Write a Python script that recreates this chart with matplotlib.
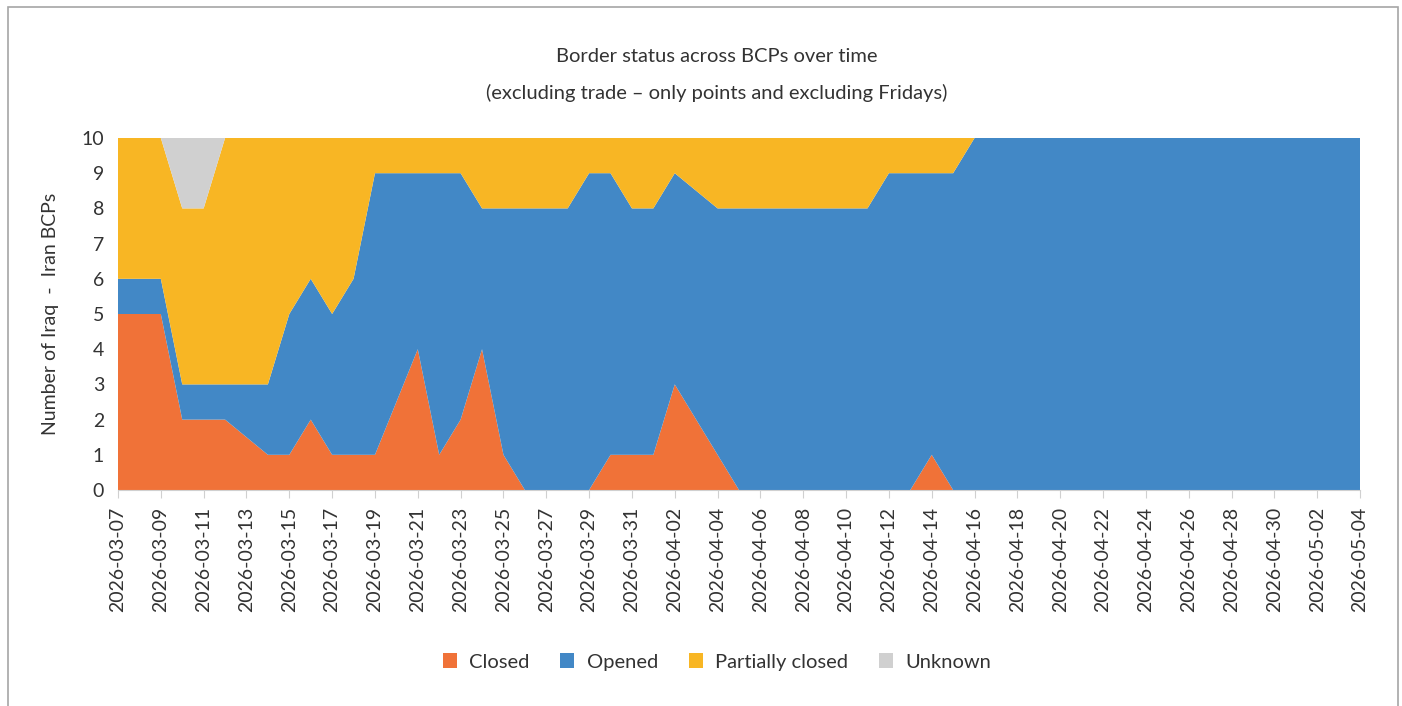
import matplotlib
matplotlib.use("Agg")
import matplotlib.pyplot as plt
import matplotlib.dates as mdates
from matplotlib.patches import Rectangle
import pandas as pd

# daily reports, Fridays are not reported (Excel joins the gap with a straight line)
all_days = pd.date_range("2026-03-07", "2026-05-04", freq="D")
dates = all_days[all_days.dayofweek != 4]

closed = [5, 5, 5, 2, 2, 2,
          1, 1, 2, 1, 1, 1,
          4, 1, 2, 4, 1, 0,
          0, 0, 1, 1, 1, 3,
          1, 0, 0, 0, 0, 0,
          0, 0, 0, 1, 0, 0,
          0, 0, 0, 0, 0, 0,
          0, 0, 0, 0, 0, 0,
          0, 0, 0]
opened = [1, 1, 1, 1, 1, 1,
          2, 4, 4, 4, 5, 8,
          5, 8, 7, 4, 7, 8,
          8, 9, 8, 7, 7, 6,
          7, 8, 8, 8, 8, 8,
          8, 9, 9, 8, 9, 10,
          10, 10, 10, 10, 10, 10,
          10, 10, 10, 10, 10, 10,
          10, 10, 10]
partial = [4, 4, 4, 5, 5, 7,
           7, 5, 4, 5, 4, 1,
           1, 1, 1, 2, 2, 2,
           2, 1, 1, 2, 2, 1,
           2, 2, 2, 2, 2, 2,
           2, 1, 1, 1, 1, 0,
           0, 0, 0, 0, 0, 0,
           0, 0, 0, 0, 0, 0,
           0, 0, 0]
unknown = [0, 0, 0, 2, 2, 0] + [0] * 45

labels = ["Closed", "Opened", "Partially closed", "Unknown"]
colors = ["#F07238", "#4288C6", "#F8B624", "#D0D0D0"]

FONT = "Lato"
TXT = "#333333"

fig = plt.figure(figsize=(14.02, 7.06), dpi=100)
ax = fig.add_axes([118 / 1402, 1 - 490 / 706, (1360 - 118) / 1402, (490 - 138) / 706])

ax.stackplot(dates, closed, opened, partial, unknown, labels=labels, colors=colors,
             linewidth=0)

ax.set_xlim(all_days[0], all_days[-1])
ax.set_ylim(0, 10)
ax.set_yticks(range(0, 11))
ax.set_xticks(pd.date_range(all_days[0], all_days[-1], freq="2D"))
ax.xaxis.set_major_formatter(mdates.DateFormatter("%Y-%m-%d"))
ax.tick_params(axis="x", rotation=90, length=6, color="#d0d0d0", pad=6,
               labelsize=14, labelcolor=TXT)
ax.tick_params(axis="y", length=0, pad=10, labelsize=14, labelcolor=TXT)
for lab in ax.get_xticklabels() + ax.get_yticklabels():
    lab.set_family(FONT)

ax.spines[["top", "right", "left"]].set_visible(False)
ax.spines["bottom"].set_color("#d0d0d0")

ax.set_ylabel("Number of Iraq  -  Iran BCPs", fontsize=14, color=TXT, family=FONT,
              labelpad=16)

fig.text(0.511, 1 - 57 / 706, "Border status across BCPs over time", ha="center",
         va="center", fontsize=14.5, color=TXT, family=FONT)
fig.text(0.511, 1 - 93 / 706, "(excluding trade \u2013 only points and excluding Fridays)",
         ha="center", va="center", fontsize=14.5, color=TXT, family=FONT)

leg = fig.legend(loc="center", bbox_to_anchor=(717 / 1402, 1 - 662 / 706), ncol=4,
                 frameon=False, handlelength=0.7, handleheight=0.7, columnspacing=1.55,
                 handletextpad=0.6, prop={"family": FONT, "size": 14.5})
for t in leg.get_texts():
    t.set_color(TXT)

fig.add_artist(Rectangle((7.5 / 1402, -0.01), 1390 / 1402, 1.01 - 6.5 / 706,
                         transform=fig.transFigure, fill=False, edgecolor="#a6a6a6", lw=1.2))

fig.savefig("out.png", dpi=100)
